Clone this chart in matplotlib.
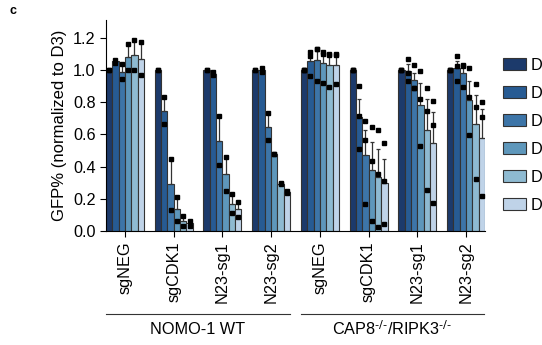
import numpy as np
import matplotlib
matplotlib.use('Agg')
import matplotlib.pyplot as plt
from matplotlib.patches import Patch

plt.rcParams['font.family'] = ['Liberation Sans', 'DejaVu Sans']
plt.rcParams['mathtext.default'] = 'regular'

# guides in plot order, 4 per cell line
guides = ['sgNEG', 'sgCDK1', 'N23-sg1', 'N23-sg2',
          'sgNEG', 'sgCDK1', 'N23-sg1', 'N23-sg2']
cell_lines = ['NOMO-1 WT', r'CAP8$^{\text{-/-}}$/RIPK3$^{\text{-/-}}$']
days = ['D3', 'D6', 'D9', 'D12', 'D15', 'D18']
colors = ['#1c3a6b', '#275b93', '#3d75a8', '#5e97bb', '#8ebad1', '#bfd3e8']

# replicate values per guide, per day
reps = [
    # NOMO-1 WT
    [[1.0, 1.0], [1.043, 1.063], [1.037, 0.943], [1.163, 1.0], [1.184, 1.0], [1.171, 0.97]],
    [[1.0, 1.0], [0.829, 0.663], [0.45, 0.131], [0.211, 0.06], [0.093, 0.033], [0.062, 0.033]],
    [[1.0, 1.0], [0.97, 0.985], [0.711, 0.408], [0.458, 0.249], [0.23, 0.11], [0.178, 0.089]],
    [[1.0, 1.0], [0.987, 1.012], [0.73, 0.562], [0.48, 0.48], [0.29, 0.299], [0.238, 0.251]],
    # CAP8-/-/RIPK3-/-
    [[1.0, 1.0, 1.0], [1.111, 1.088, 0.964], [1.13, 1.13, 0.929], [1.10, 1.11, 0.92],
     [1.10, 1.09, 0.893], [1.09, 1.10, 0.91]],
    [[1.0, 1.0, 1.0], [0.898, 0.715, 0.508], [0.686, 0.562, 0.168], [0.643, 0.435, 0.062],
     [0.628, 0.352, 0.027], [0.549, 0.309, 0.041]],
    [[1.0, 1.0, 1.0], [1.07, 0.981, 0.933], [1.028, 0.889, 0.889], [0.995, 0.821, 0.529],
     [0.887, 0.742, 0.253], [0.808, 0.659, 0.176]],
    [[1.0, 1.0, 1.0], [1.084, 1.022, 0.933], [1.03, 1.022, 0.891], [1.011, 0.835, 0.597],
     [0.912, 0.767, 0.321], [0.798, 0.707, 0.218]],
]

fs = 11.7

fig = plt.figure(figsize=(5.42, 3.45), dpi=100)
ax = fig.add_axes([106/542, 1 - 231/345, 379/542, 211/345])

w = 0.13
x = np.arange(len(guides))
for d in range(len(days)):
    vals = [np.array(r[d]) for r in reps]
    means = np.array([v.mean() for v in vals])
    sem = np.array([v.std(ddof=1) / np.sqrt(len(v)) for v in vals])
    xs = x + (d - 2.5) * w
    ax.bar(xs, means, width=w, color=colors[d], edgecolor='#333333', linewidth=0.8,
           label=days[d], zorder=2)
    ax.errorbar(xs, means, yerr=[np.zeros_like(sem), sem], fmt='none', ecolor='#333333',
                elinewidth=0.9, capsize=1.5, capthick=0.9, zorder=3)
    for xi, v in zip(xs, vals):
        ax.plot(np.full(len(v), xi), v, 's', color='black', markersize=3.2, zorder=4)

ax.set_xlim(-0.39, 7.39)
ax.set_ylim(0, 1.31)
yt = np.arange(0, 1.21, 0.2)
ax.set_yticks(yt)
ax.set_yticklabels([f'{t:.1f}' for t in yt], fontsize=fs)
ax.set_xticks(x)
ax.set_xticklabels(guides, rotation=90, fontsize=fs)
ax.tick_params(length=4, width=0.8)
ax.spines['top'].set_visible(False)
ax.spines['right'].set_visible(False)
ax.set_ylabel('GFP% (normalized to D3)', fontsize=12)

# cell line brackets
for i, name in enumerate(cell_lines):
    x0 = (106 + i * 195) / 542
    x1 = (290 + i * 194) / 542
    fig.add_artist(plt.Line2D([x0, x1], [1 - 314/345] * 2, color='#333333', lw=0.8))
    fig.text((x0 + x1) / 2, 1 - 329/345, name, ha='center', va='center', fontsize=fs)

handles = [Patch(facecolor=c, edgecolor='#333333', linewidth=0.8) for c in colors]
fig.legend(handles, days, loc='upper left', bbox_to_anchor=(503/542, 1 - 58/345),
           frameon=False, borderpad=0, borderaxespad=0, fontsize=fs,
           handlelength=1.42, handleheight=0.74, handletextpad=0.3, labelspacing=0.8)

fig.text(10/542, 1 - 11/345, 'c', fontsize=9, fontweight='bold', va='center')

fig.savefig('out.png', dpi=100)
